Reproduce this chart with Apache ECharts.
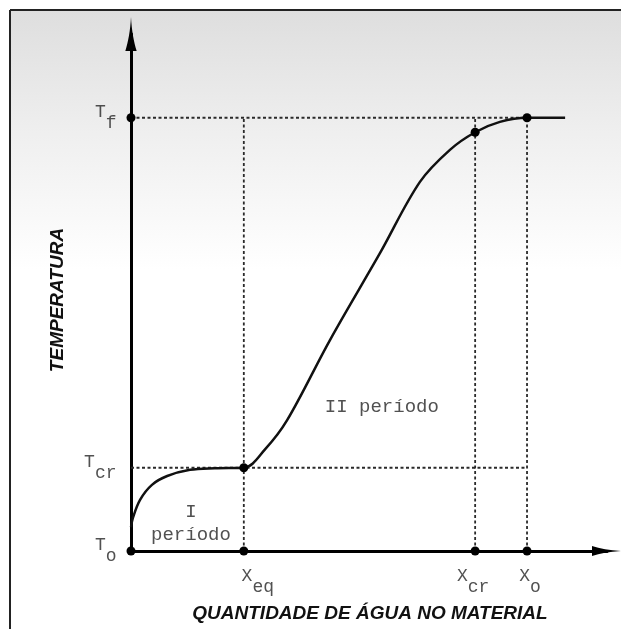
<!DOCTYPE html>
<html>
<head>
<meta charset="utf-8">
<title>Temperatura x quantidade de água</title>
<script src="https://cdn.jsdelivr.net/npm/echarts@6/dist/echarts.min.js"></script>
<style>
html, body { margin: 0; padding: 0; background: #fff; }
#main { width: 621px; height: 629px; }
</style>
</head>
<body>
<div id="main"></div>
<script>
// pontos característicos: eixo x (quantidade de água) e eixo y (temperatura)
var xMarks = [23.7, 72.3, 83.2];          // Xeq, Xcr, Xo
var xMarkSubs = ['eq', 'cr', 'o'];
var tMarks = [0, 16.1, 83.8];             // To, Tcr, Tf
var tMarkSubs = ['o', 'cr', 'f'];

// curva de aquecimento do material
var curveX = [0, 0.4, 1.9, 4.4, 7.6, 12.4, 17.6, 23.7, 28.2, 32.8, 41.8, 52.3, 60.7, 67.0, 72.3, 77.5, 83.2, 91.2];
var curveY = [4.6, 6.4, 9.9, 12.8, 14.5, 15.7, 16.0, 16.1, 19.7, 25.3, 40.8, 57.6, 71.4, 77.6, 81.0, 83.0, 83.8, 83.8];

// pontos marcados sobre a curva (Xeq, Xcr, Xo)
var curveDotY = [16.1, 81.0, 83.8];

// períodos
var periodText = ['I\nperíodo', 'II período'];
var periodX = [12.6, 52.7];
var periodY = [5.4, 27.9];

var monoFont = '"Liberation Mono", "DejaVu Sans Mono", monospace';
var textColor = '#252525';
var hidden = 'rgba(0,0,0,0)';
var tF = tMarks[2], xO = xMarks[2];

var myChart = echarts.init(document.getElementById('main'));

// rich text: letra + subscrito
var rich = {
    m: { fontFamily: monoFont, fontSize: 18, lineHeight: 16, verticalAlign: 'top', color: textColor },
    s: { fontFamily: monoFont, fontSize: 18, lineHeight: 16, verticalAlign: 'top', padding: [11, 0, 0, 0], color: textColor }
};
var xLabelOffset = [[14, 0], [-2, 0], [3, 0]];

var series = [];

// linhas tracejadas de referência
var guideStyle = { color: '#2a2a2a', width: 1.8, type: [3, 2.5] };
[tMarks[1], tF].forEach(function (t) {
    series.push({
        type: 'line', symbol: 'none', silent: true, z: 1,
        lineStyle: guideStyle,
        data: [[0, t], [xO, t]]
    });
});
xMarks.forEach(function (x) {
    series.push({
        type: 'line', symbol: 'none', silent: true, z: 1,
        lineStyle: guideStyle,
        data: [[x, 0], [x, tF]]
    });
});

// curva
series.push({
    type: 'line', symbol: 'none', smooth: 0.35, z: 3,
    lineStyle: { color: '#111', width: 2.5 },
    data: curveX.map(function (x, i) { return [x, curveY[i]]; })
});

// pontos pretos
var dots = [[0, tMarks[0]], [0, tF]];
xMarks.forEach(function (x, i) {
    dots.push([x, 0]);
    dots.push([x, curveDotY[i]]);
});
series.push({
    type: 'scatter', symbolSize: 9, z: 4,
    itemStyle: { color: '#000', opacity: 1 },
    data: dots
});

// rótulos T
series.push({
    type: 'scatter', symbolSize: 9, z: 2, silent: true,
    itemStyle: { color: hidden },
    label: {
        show: true, position: 'left', distance: 10, offset: [0, -7],
        formatter: function (p) { return '{m|T}{s|' + tMarkSubs[p.dataIndex] + '}'; },
        rich: rich
    },
    data: tMarks.map(function (t) { return [0, t]; })
});

// rótulos X
series.push({
    type: 'scatter', symbolSize: 9, z: 2, silent: true,
    itemStyle: { color: hidden },
    data: xMarks.map(function (x, i) {
        return {
            value: [x, 0],
            label: {
                show: true, position: 'bottom', distance: 12, offset: xLabelOffset[i],
                formatter: '{m|X}{s|' + xMarkSubs[i] + '}',
                rich: rich
            }
        };
    })
});

// textos dos períodos
series.push({
    type: 'scatter', symbolSize: 1, z: 2, silent: true,
    itemStyle: { color: hidden },
    label: {
        show: true, position: 'inside',
        fontFamily: monoFont, fontSize: 19, lineHeight: 23, align: 'center',
        color: textColor,
        formatter: function (p) { return periodText[p.dataIndex]; }
    },
    data: periodX.map(function (x, i) { return [x, periodY[i]]; })
});

var arrowPath = 'path://M5,0 C5.6,12 7.5,22 10,30 L0,30 C2.5,22 4.4,12 5,0 Z';

var option = {
    backgroundColor: '#fff',
    animation: false,
    grid: { left: 131, right: 14, top: 34, bottom: 78 },
    xAxis: {
        type: 'value', min: 0, max: 100,
        axisLine: { show: true, onZero: false, symbol: ['none', arrowPath], symbolSize: [16, 30], lineStyle: { color: '#000', width: 3 } },
        axisTick: { show: false }, axisLabel: { show: false }, splitLine: { show: false }
    },
    yAxis: {
        type: 'value', min: 0, max: 100,
        axisLine: { show: true, onZero: false, symbol: ['none', arrowPath], symbolSize: [15, 34], lineStyle: { color: '#000', width: 3 } },
        axisTick: { show: false }, axisLabel: { show: false }, splitLine: { show: false }
    },
    graphic: {
        elements: [
            {
                type: 'rect', z: -100, silent: true,
                shape: { x: 10, y: 10, width: 611, height: 619 },
                style: {
                    fill: new echarts.graphic.LinearGradient(0, 0, 0, 1, [
                        { offset: 0, color: '#dedede' },
                        { offset: 0.2, color: '#efefef' },
                        { offset: 0.42, color: '#ffffff' },
                        { offset: 1, color: '#ffffff' }
                    ])
                }
            },
            { type: 'line', z: -90, silent: true, shape: { x1: 10, y1: 10, x2: 621, y2: 10 }, style: { stroke: '#222', lineWidth: 2 } },
            { type: 'line', z: -90, silent: true, shape: { x1: 10, y1: 10, x2: 10, y2: 629 }, style: { stroke: '#222', lineWidth: 2 } },
            {
                type: 'text', x: 370, y: 614, silent: true,
                style: { text: 'QUANTIDADE DE ÁGUA NO MATERIAL', font: 'italic bold 19px "Liberation Sans"', fill: '#111', align: 'center', verticalAlign: 'middle' }
            },
            {
                type: 'text', x: 58, y: 300, rotation: Math.PI / 2, silent: true,
                style: { text: 'TEMPERATURA', font: 'italic bold 19px "Liberation Sans"', fill: '#111', align: 'center', verticalAlign: 'middle' }
            }
        ]
    },
    series: series
};

myChart.setOption(option);
</script>
</body>
</html>
